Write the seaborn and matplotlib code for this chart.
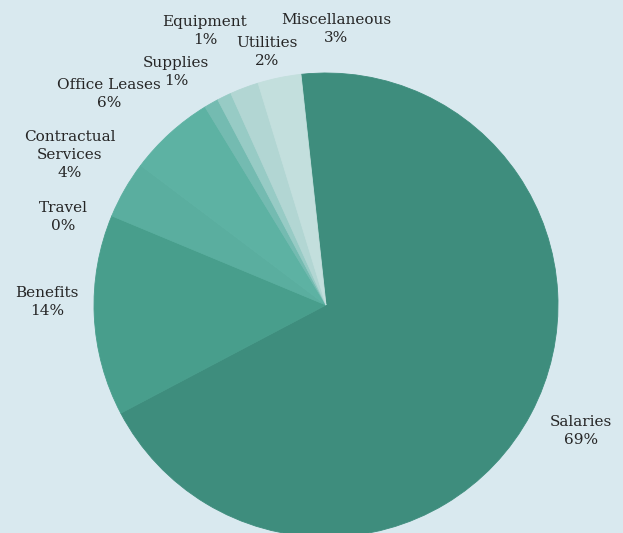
import matplotlib
matplotlib.use("Agg")
import matplotlib.pyplot as plt
import seaborn as sns

# ---- data ----
categories = ["Salaries", "Benefits", "Travel", "Contractual\nServices",
              "Office Leases", "Supplies", "Equipment", "Utilities", "Miscellaneous"]
percents = [69, 14, 0, 4, 6, 1, 1, 2, 3]

# ---- styles ----
colors = ["#3e8d7d", "#489e8c", "#50a894", "#5aae9f", "#5db2a3",
          "#74bbb1", "#97cbc5", "#b2d6d3", "#c3dfdd"]
bg = "#d9e9ef"
text_color = "#262626"

# label block centres in figure pixels (x, y from top)
label_px = [(581, 431), (47, 302), (63, 217), (70, 155), (109, 94),
            (176, 72), (205, 31), (267, 52), (336, 29)]

W, H = 623, 533
cx, cy, R = 326, 305, 232

sns.set_theme(style="white")
plt.rcParams["font.family"] = ["DejaVu Serif"]

fig = plt.figure(figsize=(W / 100, H / 100), dpi=100)
fig.patch.set_facecolor(bg)
ax = fig.add_axes([(cx - R) / W, (H - cy - R) / H, 2 * R / W, 2 * R / H])
ax.set_facecolor(bg)

wedges, _ = ax.pie(percents, colors=colors, startangle=96.2, counterclock=False,
                   radius=1.0, wedgeprops=dict(linewidth=0.6))
for w, c in zip(wedges, colors):
    w.set_edgecolor(c)

ax.set_xlim(-1, 1)
ax.set_ylim(-1, 1)
ax.set_aspect("auto")
ax.axis("off")

for name, p, (px, py) in zip(categories, percents, label_px):
    txt = f"{name}\n{p}%"
    fig.text(px / W, 1 - py / H, txt, ha="center", va="center", fontsize=11,
             color=text_color, linespacing=1.38)

fig.savefig("out.png", dpi=100, facecolor=bg)
